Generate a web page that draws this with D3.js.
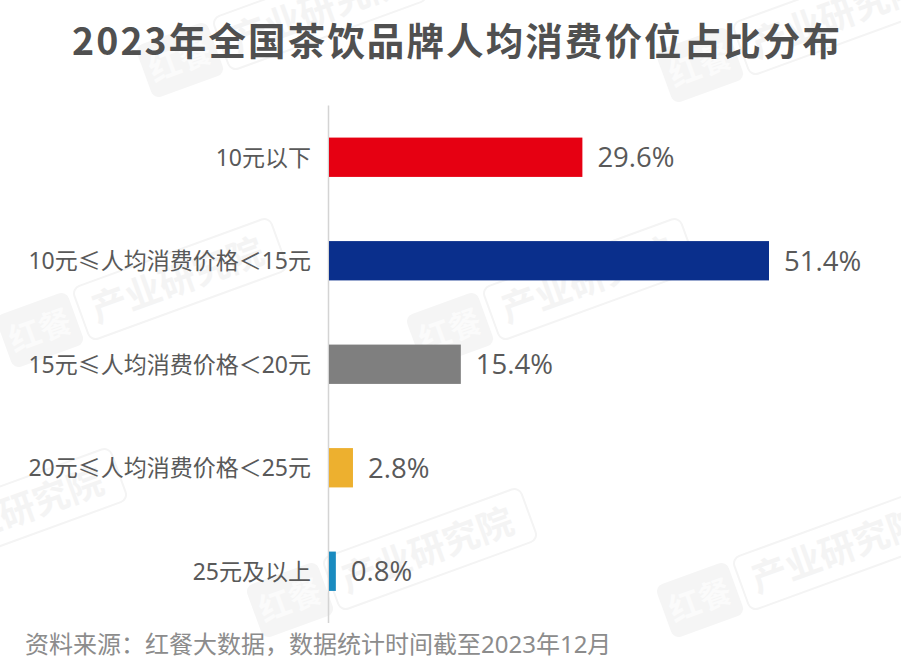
<!DOCTYPE html>
<html><head><meta charset="utf-8">
<script src="https://cdn.jsdelivr.net/npm/d3@7/dist/d3.min.js"></script>
<style>
html,body{margin:0;padding:0;background:#fff;}
svg{display:block;}
</style></head>
<body>
<svg id="chart" width="901" height="663"></svg>
<script>
const titleText = "2023年全国茶饮品牌人均消费价位占比分布";
const categories = ["10元以下","10元≤人均消费价格＜15元","15元≤人均消费价格＜20元","20元≤人均消费价格＜25元","25元及以上"];
const values = [29.6, 51.4, 15.4, 2.8, 0.8];
const colors = ["#e60012","#0a2f8c","#7f7f7f","#edb02f","#1a8bc0"];
const sourceText = "资料来源：红餐大数据，数据统计时间截至2023年12月";

const svg = d3.select("#chart");
const font = "'Noto Sans CJK SC','Noto Sans',sans-serif";
const latinFirst = "'Noto Sans','Noto Sans CJK SC',sans-serif";

// watermarks
const wm = svg.append("g").attr("fill","none");
const wmPos = [[40,330],[450,330],[700,600],[700,65],[290,600],[-120,560],[180,60]];
wmPos.forEach(([x,y])=>{
  const g = wm.append("g").attr("transform",`translate(${x},${y}) rotate(-20)`);
  g.append("rect").attr("x",-38).attr("y",-28).attr("width",76).attr("height",56).attr("rx",8)
    .attr("fill","#f5f5f5");
  g.append("text").attr("x",0).attr("y",12).attr("text-anchor","middle")
    .attr("font-family",font).attr("font-weight","bold").attr("font-size",32).attr("fill","#fbfbfb").text("红餐");
  g.append("rect").attr("x",44).attr("y",-28).attr("width",210).attr("height",56).attr("rx",8)
    .attr("fill","none").attr("stroke","#f4f4f4").attr("stroke-width",2);
  g.append("text").attr("x",56).attr("y",13).attr("font-family",font).attr("font-weight","bold")
    .attr("font-size",36).attr("fill","#f4f4f4").text("产业研究院");
});

// title
svg.append("text").attr("x",457).attr("y",55).attr("text-anchor","middle")
  .attr("font-family",font).attr("font-weight","bold").attr("font-size",37.5)
  .attr("letter-spacing","2.1px").attr("fill","#505050").text(titleText);

const x0 = 329;
const x = d3.scaleLinear().domain([0, 51.4]).range([x0, 769]);
const y = d3.scaleBand().domain(categories).range([105.5, 623]).paddingInner(0.62).paddingOuter(0.31);

// axis line
svg.append("line").attr("x1",x0-0.5).attr("x2",x0-0.5).attr("y1",105.5).attr("y2",623)
  .attr("stroke","#d4d4d4").attr("stroke-width",1.5);

// bars
svg.append("g").selectAll("rect").data(values).join("rect")
  .attr("x",x0).attr("y",(d,i)=>y(categories[i]))
  .attr("width",d=>x(d)-x0).attr("height",y.bandwidth())
  .attr("fill",(d,i)=>colors[i]);

// value labels
svg.append("g").selectAll("text").data(values).join("text")
  .attr("x",d=>x(d)+15).attr("y",(d,i)=>y(categories[i])+y.bandwidth()/2)
  .attr("dy","0.36em").attr("font-family","'Open Sans','Noto Sans',sans-serif")
  .attr("font-size",27.5).attr("fill","#595959").text(d=>d.toFixed(1)+"%");

// category labels
svg.append("g").selectAll("text").data(categories).join("text")
  .attr("x",311).attr("y",d=>y(d)+y.bandwidth()/2).attr("dy","0.36em")
  .attr("text-anchor","end").attr("font-family",latinFirst).attr("font-size",23)
  .attr("fill","#595959").text(d=>d);

// source
svg.append("text").attr("x",25).attr("y",653).attr("font-family",latinFirst).attr("font-size",24)
  .attr("fill","#8c8c8c").text(sourceText);
</script>
</body></html>
